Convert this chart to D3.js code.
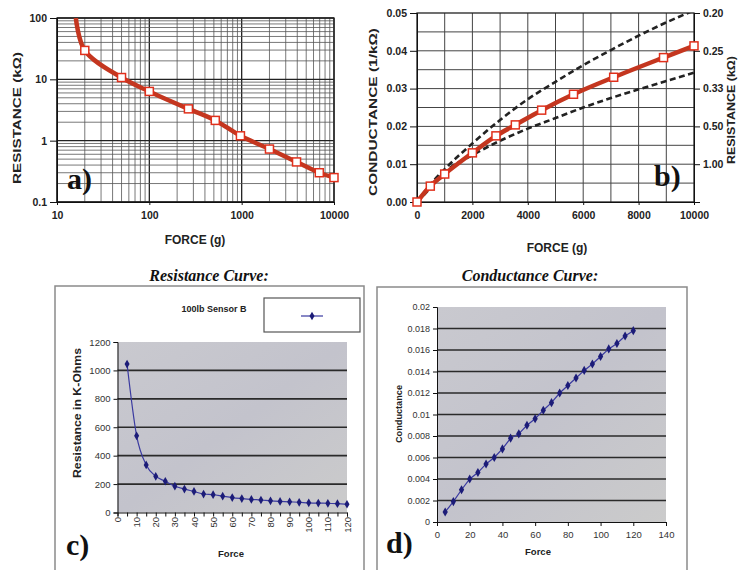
<!DOCTYPE html>
<html>
<head>
<meta charset="utf-8">
<script src="https://cdn.jsdelivr.net/npm/d3@7"></script>
<style>
  body { margin: 0; background: #fff; }
  text { font-family: "Liberation Sans", Arial, sans-serif; }
</style>
</head>
<body>
<div id="chart"></div>
<script>
// a) resistance vs force (log-log); first point is where the curve leaves the top edge
const forceA = [16, 20, 50, 100, 265, 518, 970, 2000, 3930, 6930, 10000];
const resistanceA = [100, 29.6, 10.7, 6.35, 3.3, 2.14, 1.2, 0.73, 0.45, 0.3, 0.25];

// b) conductance vs force, with two dashed bounds
const forceB = [0, 480, 1000, 2000, 2850, 3550, 4500, 5650, 7100, 8900, 10000];
const conductanceB = [0, 0.0042, 0.0074, 0.013, 0.0175, 0.0204, 0.0243, 0.0285, 0.033, 0.0382, 0.0413];
const boundForceB = [0, 500, 1000, 2000, 3000, 4000, 5000, 6000, 7000, 8000, 9000, 10000];
const upperB = [0, 0.0048, 0.0087, 0.0155, 0.0217, 0.0272, 0.0318, 0.0362, 0.0402, 0.044, 0.0475, 0.0507];
const lowerB = [0, 0.0038, 0.0079, 0.0124, 0.0162, 0.0194, 0.0222, 0.025, 0.0275, 0.0298, 0.032, 0.0342];
const rightTicksB = [0.05, 0.04, 0.03, 0.02, 0.01];
const rightLabelsB = ["0.20", "0.25", "0.33", "0.50", "1.00"];

// c) resistance curve (Excel style)
const forceC = [5, 10, 15, 20, 25, 30, 35, 40, 45, 50, 55, 60, 65, 70, 75, 80, 85, 90, 95, 100, 105, 110, 115, 120];
const resistanceC = [1045, 540, 335, 255, 220, 185, 165, 148, 130, 125, 115, 105, 98, 92, 88, 82, 78, 75, 72, 68, 66, 65, 62, 58];

// d) conductance curve
const forceD = [5, 10, 15, 20, 25, 30, 35, 40, 45, 50, 55, 60, 65, 70, 75, 80, 85, 90, 95, 100, 105, 110, 115, 120];
const conductanceD = [0.00093, 0.0019, 0.003, 0.004, 0.0046, 0.0054, 0.006, 0.0068, 0.0078, 0.0082, 0.009, 0.0096, 0.0104, 0.0111, 0.012, 0.0127, 0.0134, 0.0141, 0.0147, 0.0154, 0.0161, 0.0166, 0.0173, 0.0178];

const W = 738, H = 570;
const svg = d3.select("#chart").append("svg")
  .attr("width", W).attr("height", H)
  .style("display", "block");
svg.append("rect").attr("width", W).attr("height", H).attr("fill", "#fff");

const defs = svg.append("defs");
const red = "#c4361f";
const navy = "#1c1c78";

function styleAxis(g, size, weight, color) {
  g.selectAll("text")
    .style("font-size", size + "px")
    .style("font-weight", weight)
    .attr("fill", color);
  g.selectAll("line").attr("stroke", "#111");
  g.select(".domain").attr("stroke", "#111");
}

function panelLabel(txt, x, y) {
  svg.append("text").attr("x", x).attr("y", y).text(txt)
    .style("font-family", '"Liberation Serif", "Times New Roman", serif')
    .style("font-weight", "bold").style("font-size", "30px").attr("fill", "#111");
}

function redMarkers(g, xs, ys, skipFirst) {
  g.selectAll("rect.mk")
    .data(xs.map((v, i) => [v, ys[i]]).filter((d, i) => !(skipFirst && i === 0)))
    .join("rect").attr("class", "mk")
    .attr("x", d => d[0] - 4).attr("y", d => d[1] - 4)
    .attr("width", 8).attr("height", 8)
    .attr("fill", "#fff").attr("stroke", "#e0301c").attr("stroke-width", 1.5);
}

// ---------------- panel a ----------------
const aX = d3.scaleLog().domain([10, 10000]).range([57, 334]);
const aY = d3.scaleLog().domain([0.1, 100]).range([202, 18]);
const ga = svg.append("g");

ga.selectAll("line.vg").data(aX.ticks()).join("line").attr("class", "vg")
  .attr("x1", d => aX(d)).attr("x2", d => aX(d)).attr("y1", 18).attr("y2", 202)
  .attr("stroke", d => Math.log10(d) % 1 === 0 ? "#222" : "#555")
  .attr("stroke-width", d => Math.log10(d) % 1 === 0 ? 1.3 : 0.8);
ga.selectAll("line.hg").data(aY.ticks()).join("line").attr("class", "hg")
  .attr("y1", d => aY(d)).attr("y2", d => aY(d)).attr("x1", 57).attr("x2", 334)
  .attr("stroke", d => Math.abs(Math.log10(d) % 1) < 1e-9 ? "#222" : "#555")
  .attr("stroke-width", d => Math.abs(Math.log10(d) % 1) < 1e-9 ? 1.3 : 0.8);
ga.append("rect").attr("x", 57).attr("y", 18).attr("width", 277).attr("height", 184)
  .attr("fill", "none").attr("stroke", "#222").attr("stroke-width", 1.3);

ga.append("g").attr("transform", "translate(57,0)")
  .call(d3.axisLeft(aY).tickValues([0.1, 1, 10, 100]).tickSize(7).tickFormat(d => d))
  .call(g => styleAxis(g, 10.5, "bold", "#222"));
ga.append("g").attr("transform", "translate(0,202)")
  .call(d3.axisBottom(aX).tickValues([10, 100, 1000, 10000]).tickSize(3).tickPadding(7).tickFormat(d => d))
  .call(g => styleAxis(g, 10.5, "bold", "#222"));

defs.append("clipPath").attr("id", "clipA").append("rect")
  .attr("x", 57).attr("y", 18).attr("width", 277).attr("height", 184);
const aPts = forceA.map((f, i) => [aX(f), aY(resistanceA[i])]);
ga.append("path").attr("clip-path", "url(#clipA)")
  .attr("d", d3.line().curve(d3.curveCatmullRom)(aPts))
  .attr("fill", "none").attr("stroke", red).attr("stroke-width", 4.5);
redMarkers(ga, aPts.map(d => d[0]), aPts.map(d => d[1]), true);

ga.append("text").attr("x", 195).attr("y", 244).attr("text-anchor", "middle")
  .style("font-size", "12px").style("font-weight", "bold").attr("fill", "#222").text("FORCE (g)");
ga.append("text").attr("transform", "translate(21,118) rotate(-90)").attr("text-anchor", "middle")
  .style("font-size", "11.5px").style("font-weight", "bold").attr("fill", "#222")
  .attr("textLength", 132).attr("lengthAdjust", "spacingAndGlyphs").text("RESISTANCE (kΩ)");
panelLabel("a)", 67, 189);

// ---------------- panel b ----------------
const bX = d3.scaleLinear().domain([0, 10000]).range([417, 694]);
const bY = d3.scaleLinear().domain([0, 0.05]).range([202, 13]);
const gb = svg.append("g");

gb.selectAll("line.vg").data(d3.range(1000, 10000, 1000)).join("line").attr("class", "vg")
  .attr("x1", d => bX(d)).attr("x2", d => bX(d)).attr("y1", 13).attr("y2", 202)
  .attr("stroke", "#444").attr("stroke-width", 1);
gb.selectAll("line.hg").data(d3.range(1, 10).map(k => k * 0.005)).join("line").attr("class", "hg")
  .attr("y1", d => bY(d)).attr("y2", d => bY(d)).attr("x1", 417).attr("x2", 694)
  .attr("stroke", "#444").attr("stroke-width", 1);
gb.append("rect").attr("x", 417).attr("y", 13).attr("width", 277).attr("height", 189)
  .attr("fill", "none").attr("stroke", "#222").attr("stroke-width", 1.3);

gb.append("g").attr("transform", "translate(417,0)")
  .call(d3.axisLeft(bY).tickValues(d3.range(0, 0.051, 0.01)).tickSize(7).tickFormat(d3.format(".2f")))
  .call(g => styleAxis(g, 10.5, "bold", "#222"));
gb.append("g").attr("transform", "translate(0,202)")
  .call(d3.axisBottom(bX).tickValues(d3.range(0, 10001, 2000)).tickSize(3).tickPadding(7).tickFormat(d3.format("d")))
  .call(g => styleAxis(g, 10.5, "bold", "#222"));
gb.append("g").attr("transform", "translate(694,0)")
  .call(d3.axisRight(bY).tickValues(rightTicksB).tickSize(6)
    .tickFormat((d, i) => rightLabelsB[i]))
  .call(g => styleAxis(g, 10.5, "bold", "#222"));

defs.append("clipPath").attr("id", "clipB").append("rect")
  .attr("x", 417).attr("y", 13).attr("width", 277).attr("height", 189);
const bLine = d3.line().curve(d3.curveMonotoneX);
[upperB, lowerB].forEach(vals => {
  gb.append("path").attr("clip-path", "url(#clipB)")
    .attr("d", bLine(boundForceB.map((f, i) => [bX(f), bY(vals[i])])))
    .attr("fill", "none").attr("stroke", "#222").attr("stroke-width", 2.6)
    .attr("stroke-dasharray", "6,3.5");
});
const bPts = forceB.map((f, i) => [bX(f), bY(conductanceB[i])]);
gb.append("path").attr("d", bLine(bPts))
  .attr("fill", "none").attr("stroke", red).attr("stroke-width", 4.5);
redMarkers(gb, bPts.map(d => d[0]), bPts.map(d => d[1]), false);

gb.append("text").attr("x", 557).attr("y", 252).attr("text-anchor", "middle")
  .style("font-size", "12px").style("font-weight", "bold").attr("fill", "#222").text("FORCE (g)");
gb.append("text").attr("transform", "translate(377,112) rotate(-90)").attr("text-anchor", "middle")
  .style("font-size", "11.5px").style("font-weight", "bold").attr("fill", "#222")
  .attr("textLength", 168).attr("lengthAdjust", "spacingAndGlyphs").text("CONDUCTANCE (1/kΩ)");
gb.append("text").attr("transform", "translate(735,110) rotate(-90)").attr("text-anchor", "middle")
  .style("font-size", "10.5px").style("font-weight", "bold").attr("fill", "#222")
  .attr("textLength", 108).attr("lengthAdjust", "spacingAndGlyphs").text("RESISTANCE (kΩ)");
panelLabel("b)", 654, 186);

// ---------------- panel c ----------------
const cX = d3.scaleLinear().domain([0, 120]).range([117.5, 347]);
const cY = d3.scaleLinear().domain([0, 1200]).range([512.5, 342]);
const gc = svg.append("g");

gc.append("rect").attr("x", 55).attr("y", 286).attr("width", 309).attr("height", 300)
  .attr("fill", "#fff").attr("stroke", "#8a8a8a").attr("stroke-width", 1.5);
svg.append("text").attr("x", 209).attr("y", 281).attr("text-anchor", "middle")
  .style("font-family", '"Liberation Serif", "Times New Roman", serif')
  .style("font-style", "italic").style("font-weight", "bold").style("font-size", "16px")
  .attr("fill", "#111").text("Resistance Curve:");

const grad = defs.append("linearGradient").attr("id", "plotFill")
  .attr("x1", 0).attr("y1", 0).attr("x2", 1).attr("y2", 1);
grad.append("stop").attr("offset", 0).attr("stop-color", "#c9c9cf");
grad.append("stop").attr("offset", 0.5).attr("stop-color", "#c3c3cc");
grad.append("stop").attr("offset", 1).attr("stop-color", "#cbcbcb");

gc.append("rect").attr("x", 117.5).attr("y", 342).attr("width", 229.5).attr("height", 170.5)
  .attr("fill", "url(#plotFill)");
gc.selectAll("line.hg").data(d3.range(200, 1001, 200)).join("line").attr("class", "hg")
  .attr("y1", d => cY(d)).attr("y2", d => cY(d)).attr("x1", 117.5).attr("x2", 347)
  .attr("stroke", "#2a2a2a").attr("stroke-width", 1.6);

gc.append("g").attr("transform", "translate(117.5,0)")
  .call(d3.axisLeft(cY).tickValues(d3.range(0, 1201, 200)).tickSize(4).tickPadding(3)
    .tickFormat(d3.format("d")))
  .call(g => styleAxis(g, 9.5, "normal", "#333"));
gc.append("g").attr("transform", "translate(0,512.5)")
  .call(d3.axisBottom(cX).tickValues(d3.range(0, 121, 5)).tickSize(4).tickFormat(""))
  .call(g => styleAxis(g, 9, "normal", "#333"));
gc.selectAll("text.xt").data(d3.range(0, 121, 10)).join("text").attr("class", "xt")
  .attr("transform", d => `translate(${cX(d) + 3.5},${517}) rotate(-90)`)
  .attr("text-anchor", "end").style("font-size", "9.5px").attr("fill", "#333").text(d => d);

const cPts = forceC.map((f, i) => [cX(f), cY(resistanceC[i])]);
gc.append("path").attr("d", d3.line().curve(d3.curveMonotoneX)(cPts))
  .attr("fill", "none").attr("stroke", "#3a3aa0").attr("stroke-width", 1.2);
gc.selectAll("path.mk").data(cPts).join("path").attr("class", "mk")
  .attr("transform", d => `translate(${d[0]},${d[1]})`)
  .attr("d", d3.symbol(d3.symbolDiamond, 22)).attr("fill", navy);

gc.append("text").attr("x", 214).attr("y", 312).attr("text-anchor", "middle")
  .style("font-size", "9px").style("font-weight", "bold").attr("fill", "#222").text("100lb Sensor B");
gc.append("rect").attr("x", 264).attr("y", 298).attr("width", 96).attr("height", 34)
  .attr("fill", "#fff").attr("stroke", "#555").attr("stroke-width", 1.2);
gc.append("line").attr("x1", 301).attr("x2", 323).attr("y1", 316).attr("y2", 316)
  .attr("stroke", "#3a3aa0").attr("stroke-width", 1.2);
gc.append("path").attr("transform", "translate(312,316)")
  .attr("d", d3.symbol(d3.symbolDiamond, 22)).attr("fill", navy);

gc.append("text").attr("x", 231).attr("y", 557).attr("text-anchor", "middle")
  .style("font-size", "9.5px").style("font-weight", "bold").attr("fill", "#222").text("Force");
gc.append("text").attr("transform", "translate(81,413) rotate(-90)").attr("text-anchor", "middle")
  .style("font-size", "10px").style("font-weight", "bold").attr("fill", "#222")
  .attr("textLength", 130).attr("lengthAdjust", "spacingAndGlyphs").text("Resistance in K-Ohms");
panelLabel("c)", 66, 555);

// ---------------- panel d ----------------
const dX = d3.scaleLinear().domain([0, 140]).range([437, 666]);
const dY = d3.scaleLinear().domain([0, 0.02]).range([522, 307]);
const gd = svg.append("g");

gd.append("rect").attr("x", 377).attr("y", 287).attr("width", 310).attr("height", 300)
  .attr("fill", "#fff").attr("stroke", "#8a8a8a").attr("stroke-width", 1.5);
svg.append("text").attr("x", 530).attr("y", 281).attr("text-anchor", "middle")
  .style("font-family", '"Liberation Serif", "Times New Roman", serif')
  .style("font-style", "italic").style("font-weight", "bold").style("font-size", "16px")
  .attr("fill", "#111").text("Conductance Curve:");

gd.append("rect").attr("x", 437).attr("y", 307).attr("width", 229).attr("height", 215)
  .attr("fill", "url(#plotFill)");
gd.selectAll("line.hg").data(d3.range(1, 10).map(k => k * 0.002)).join("line").attr("class", "hg")
  .attr("y1", d => dY(d)).attr("y2", d => dY(d)).attr("x1", 437).attr("x2", 666)
  .attr("stroke", "#2a2a2a").attr("stroke-width", 1.6);

gd.append("g").attr("transform", "translate(437,0)")
  .call(d3.axisLeft(dY).tickValues(d3.range(0, 10.5).map(k => k * 0.002)).tickSize(4).tickPadding(3)
    .tickFormat(d3.format(".3~f")))
  .call(g => styleAxis(g, 9, "normal", "#333"));
gd.append("g").attr("transform", "translate(0,522)")
  .call(d3.axisBottom(dX).tickValues(d3.range(0, 141, 20)).tickSize(4).tickPadding(5))
  .call(g => styleAxis(g, 9.5, "normal", "#333"));

const dPts = forceD.map((f, i) => [dX(f), dY(conductanceD[i])]);
gd.append("path").attr("d", d3.line()(dPts))
  .attr("fill", "none").attr("stroke", "#3a3aa0").attr("stroke-width", 1.2);
gd.selectAll("path.mk").data(dPts).join("path").attr("class", "mk")
  .attr("transform", d => `translate(${d[0]},${d[1]})`)
  .attr("d", d3.symbol(d3.symbolDiamond, 24)).attr("fill", navy);

gd.append("text").attr("x", 538).attr("y", 555).attr("text-anchor", "middle")
  .style("font-size", "9.5px").style("font-weight", "bold").attr("fill", "#222").text("Force");
gd.append("text").attr("transform", "translate(402,414) rotate(-90)").attr("text-anchor", "middle")
  .style("font-size", "9.5px").style("font-weight", "bold").attr("fill", "#222")
  .attr("textLength", 58).attr("lengthAdjust", "spacingAndGlyphs").text("Conductance");
panelLabel("d)", 386, 553);
</script>
</body>
</html>
